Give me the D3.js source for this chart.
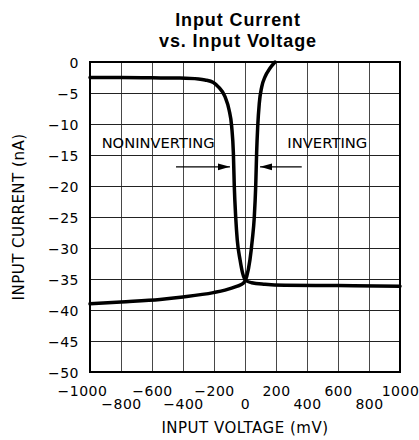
<!DOCTYPE html>
<html>
<head>
<meta charset="utf-8">
<script src="https://cdn.jsdelivr.net/npm/d3@7"></script>
<style>
  html, body { margin: 0; padding: 0; background: #fff; }
  svg { display: block; }
</style>
</head>
<body>
<svg id="chart" width="419" height="440"></svg>
<script>
// ---- data ----
const titleLines = ["Input Current", "vs. Input Voltage"];
const xTicks = [-1000, -800, -600, -400, -200, 0, 200, 400, 600, 800, 1000];
const yTicks = [0, -5, -10, -15, -20, -25, -30, -35, -40, -45, -50];
const xTitle = "INPUT VOLTAGE (mV)";
const yTitle = "INPUT CURRENT (nA)";

// Noninverting input (mV, nA)
const nonInvV = [-1000, -800, -600, -420, -300, -258, -204, -172, -129, -103, -86, -75, -69, -60, -50, -32, -15, 4, 43, 129, 258, 600, 1000];
const nonInvI = [-2.5, -2.5, -2.55, -2.6, -2.75, -2.9, -3.3, -4.0, -5.6, -7.7, -10.4, -14.7, -20.1, -25, -28.7, -31.9, -34.1, -35.2, -35.6, -35.85, -36.0, -36.05, -36.15];
// Inverting input (mV, nA)
const invV = [-1000, -800, -548, -400, -204, -129, -54, -11, 11, 32, 47, 60, 69, 75, 82, 92, 108, 129, 161, 194];
const invI = [-39.0, -38.7, -38.3, -37.9, -37.2, -36.8, -36.2, -35.7, -34.6, -31.9, -28.7, -25, -20.1, -14.7, -10.4, -6.7, -4.0, -2.4, -1.0, 0];

const labels = [
  { text: "NONINVERTING", v: -925, i: -13.9, len: 113 },
  { text: "INVERTING", v: 273, i: -13.9, len: 80 }
];
const arrows = [
  { from: -445, to: -97, i: -16.9 },
  { from: 366, to: 97, i: -16.9 }
];

// ---- layout ----
const svg = d3.select("#chart");
const L = 90, T = 62, W = 310, H = 310;
const x = d3.scaleLinear().domain([-1000, 1000]).range([L, L + W]);
const y = d3.scaleLinear().domain([0, -50]).range([T, T + H]);

const fmt = d => d < 0 ? "\u2212" + Math.abs(d) : String(d);

// title
svg.append("g").selectAll("text").data(titleLines).join("text")
  .attr("x", 238).attr("y", (d, i) => 26 + i * 20.5)
  .attr("text-anchor", "middle")
  .attr("font-family", "'Liberation Sans', Arial, sans-serif")
  .attr("font-weight", "bold").attr("font-size", 18)
  .attr("letter-spacing", 0.9)
  .attr("fill", "#000")
  .text(d => d);

// grid
const grid = svg.append("g").attr("shape-rendering", "crispEdges");
grid.selectAll("line.v").data(xTicks).join("line").attr("class", "v")
  .attr("x1", d => x(d)).attr("x2", d => x(d))
  .attr("y1", T).attr("y2", T + H)
  .attr("stroke", "#474747").attr("stroke-width", 1);
grid.selectAll("line.h").data(yTicks).join("line").attr("class", "h")
  .attr("x1", L).attr("x2", L + W)
  .attr("y1", d => y(d)).attr("y2", d => y(d))
  .attr("stroke", "#222").attr("stroke-width", 1);
svg.append("rect").attr("x", L).attr("y", T).attr("width", W).attr("height", H)
  .attr("fill", "none").attr("stroke", "#000").attr("stroke-width", 1.3)
  .attr("shape-rendering", "crispEdges");

// axes
const tickFont = "'DejaVu Sans', sans-serif";
const xAxis = svg.append("g").attr("transform", `translate(0,${T + H})`)
  .call(d3.axisBottom(x).tickValues(xTicks).tickFormat(fmt).tickSize(0).tickPadding(0));
xAxis.select(".domain").remove();
xAxis.selectAll("text")
  .attr("font-family", tickFont).attr("font-size", 14)
  .attr("letter-spacing", 0.5).attr("fill", "#000")
  .attr("y", (d, i) => i % 2 === 0 ? 19 : 32)
  .attr("dy", "0.36em")
  .attr("dx", (d, i) => i === 0 ? -8 : 0);

const yAxis = svg.append("g").attr("transform", `translate(${L},0)`)
  .call(d3.axisLeft(y).tickValues(yTicks).tickFormat(fmt).tickSize(0).tickPadding(11));
yAxis.select(".domain").remove();
yAxis.selectAll("text")
  .attr("font-family", tickFont).attr("font-size", 14)
  .attr("letter-spacing", 0.5).attr("fill", "#000")
  .attr("dy", "0.36em");

// axis titles
svg.append("text")
  .attr("x", L + W / 2).attr("y", 428).attr("dy", "0.36em")
  .attr("text-anchor", "middle")
  .attr("font-family", tickFont).attr("font-size", 15).attr("letter-spacing", 0.5)
  .attr("fill", "#000").text(xTitle);
svg.append("text")
  .attr("transform", `translate(19,${T + H / 2}) rotate(-90)`)
  .attr("dy", "0.36em")
  .attr("text-anchor", "middle")
  .attr("font-family", tickFont).attr("font-size", 15).attr("letter-spacing", 0.5)
  .attr("fill", "#000").text(yTitle);

// annotations
svg.append("g").selectAll("text").data(labels).join("text")
  .attr("x", d => x(d.v)).attr("y", d => y(d.i))
  .attr("font-family", tickFont).attr("font-size", 14.5)
  .attr("textLength", d => d.len).attr("lengthAdjust", "spacingAndGlyphs")
  .attr("fill", "#000")
  .text(d => d.text);

svg.append("defs").append("marker")
  .attr("id", "ah").attr("viewBox", "0 0 12 8")
  .attr("refX", 12).attr("refY", 4)
  .attr("markerWidth", 12).attr("markerHeight", 8)
  .attr("markerUnits", "userSpaceOnUse")
  .attr("orient", "auto")
  .append("path").attr("d", "M0,0.6 L12,4 L0,7.4 Z").attr("fill", "#000");

svg.append("g").selectAll("line").data(arrows).join("line")
  .attr("x1", d => x(d.from)).attr("x2", d => x(d.to))
  .attr("y1", d => y(d.i)).attr("y2", d => y(d.i))
  .attr("stroke", "#000").attr("stroke-width", 1.2)
  .attr("marker-end", "url(#ah)");

// curves
const line = d3.line().x(d => x(d[0])).y(d => y(d[1])).curve(d3.curveMonotoneX);
const series = [
  d3.zip(nonInvV, nonInvI),
  d3.zip(invV, invI)
];
svg.append("g").selectAll("path").data(series).join("path")
  .attr("d", line)
  .attr("fill", "none").attr("stroke", "#000")
  .attr("stroke-width", 3.5).attr("stroke-linejoin", "round").attr("stroke-linecap", "round");
</script>
</body>
</html>
